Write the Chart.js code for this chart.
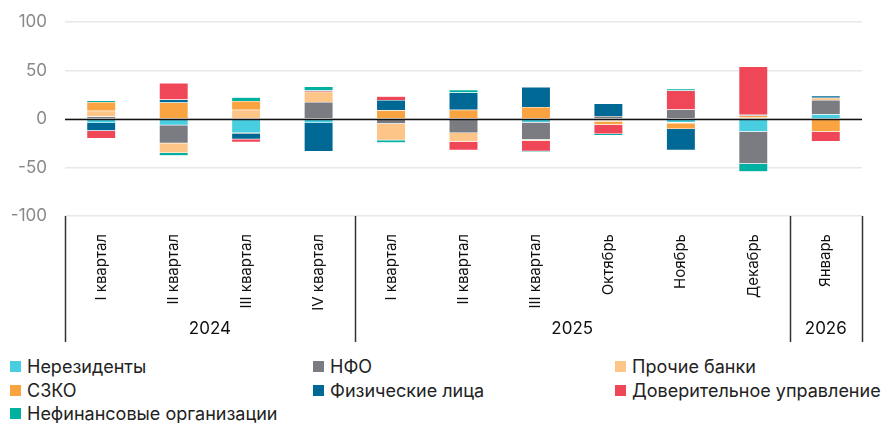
<!DOCTYPE html>
<html lang="ru">
<head>
<meta charset="utf-8">
<script src="https://cdn.jsdelivr.net/npm/chart.js@4"></script>
<style>
  html, body { margin: 0; padding: 0; background: #fff; }
  body { width: 885px; height: 423px; overflow: hidden; font-family: Inter, "Noto Sans", sans-serif; }
  #wrap { position: relative; width: 885px; height: 348px; }
  #legend {
    display: grid;
    grid-template-columns: 303px 302px 280px;
    row-gap: 4px;
    padding-left: 10px;
    margin-top: 9px;
    font-size: 18px;
    color: #222;
  }
  #legend div { display: flex; align-items: center; height: 19.5px; white-space: nowrap; }
  #legend .dot { width: 11px; height: 11px; margin-right: 6px; flex: none; }
</style>
</head>
<body>
<div id="wrap"><canvas id="chart"></canvas></div>
<div id="legend"></div>
<script>
// ===================== DATA =====================
const categories = ["I квартал", "II квартал", "III квартал", "IV квартал", "I квартал", "II квартал",
  "III квартал", "Октябрь", "Ноябрь", "Декабрь", "Январь"];
const yearLabels = ["2024", "2025", "2026"];
const yearSpans = [4, 6, 1]; // how many categories fall in each year
const yTicks = [100, 50, 0, -50, -100];

const seriesNames = ["Нерезиденты", "НФО", "Прочие банки", "СЗКО", "Физические лица",
  "Доверительное управление", "Нефинансовые организации"];
const seriesColors = ["#48cee0", "#7b7c82", "#fdc587", "#f9a441", "#006895", "#ef4757", "#00b0a0"];

const nonResidents = [-4, -6.5, -14.5, -4, 0, 0, -3.5, -1.5, -3.5, -13.2, 4.9];
const nfo = [2.5, -18.5, -1, 17.5, -5, -14.5, -18, 3, 9.7, -33, 14.6];
const otherBanks = [6, -10, 9.5, 10.5, -17, -9, -0.8, -1.5, -0.8, 2, 2.4];
const szko = [9, 17, 9, 0, 9, 9.5, 12.5, -3, -6, 1.5, -13.2];
const individuals = [-8, 3, -5.5, -29.5, 10.5, 17.7, 20.5, 13, -21.9, 1, 2];
const trust = [-8, 17, -3, 1.5, 4, -8.7, -11, -9.5, 19.8, 49.7, -10];
const nonFinancial = [1.5, -3, 4, 4, -2.5, 3, -0.7, -1.5, 1.7, -8.3, 0];

const seriesValues = [nonResidents, nfo, otherBanks, szko, individuals, trust, nonFinancial];

// ===================== PLUGINS =====================
const zeroLine = {
  id: "zeroLine",
  afterDatasetsDraw(chart) {
    const { ctx, chartArea, scales } = chart;
    const y = Math.round(scales.y.getPixelForValue(0)) + 0.5;
    ctx.save();
    ctx.strokeStyle = "#111";
    ctx.lineWidth = 1.5;
    ctx.beginPath();
    ctx.moveTo(chartArea.left, y);
    ctx.lineTo(chartArea.right, y);
    ctx.stroke();
    ctx.restore();
  },
};

const yearGroups = {
  id: "yearGroups",
  afterDraw(chart) {
    const { ctx, chartArea, scales } = chart;
    const x = scales.x;
    const top = chartArea.bottom;
    const bottom = top + 126;
    const half = (x.getPixelForValue(1) - x.getPixelForValue(0)) / 2;
    ctx.save();
    ctx.strokeStyle = "#333";
    ctx.lineWidth = 1.5;
    ctx.fillStyle = "#111";
    ctx.font = "17px Inter, 'Noto Sans', sans-serif";
    ctx.textAlign = "center";
    ctx.textBaseline = "middle";
    let start = 0;
    const edges = [x.getPixelForValue(0) - half];
    yearSpans.forEach((span, i) => {
      const end = start + span - 1;
      const left = x.getPixelForValue(start) - half;
      const right = x.getPixelForValue(end) + half;
      edges.push(right);
      ctx.fillText(yearLabels[i], (left + right) / 2, top + 113);
      start += span;
    });
    edges.forEach((px) => {
      const lx = Math.round(px) + 0.5;
      ctx.beginPath();
      ctx.moveTo(lx, top);
      ctx.lineTo(lx, bottom);
      ctx.stroke();
    });
    ctx.restore();
  },
};

// ===================== CHART =====================
new Chart(document.getElementById("chart"), {
  type: "bar",
  data: {
    labels: categories,
    datasets: seriesNames.map((name, i) => ({
      label: name,
      data: seriesValues[i],
      backgroundColor: seriesColors[i],
      borderColor: "rgba(255,255,255,0.6)",
      borderWidth: 0.5,
      categoryPercentage: 1,
      barPercentage: 0.4,
    })),
  },
  options: {
    responsive: true,
    maintainAspectRatio: false,
    animation: false,
    layout: { padding: { top: 22, right: 23, left: 0, bottom: 0 } },
    plugins: { legend: { display: false }, tooltip: { enabled: false } },
    scales: {
      x: {
        stacked: true,
        grid: { display: false },
        border: { display: false },
        ticks: {
          minRotation: 90,
          maxRotation: 90,
          autoSkip: false,
          padding: 10,
          color: "#111",
          font: { family: "Inter, 'Noto Sans', sans-serif", size: 15 },
        },
        afterFit(scale) {
          scale.height = 132;
          scale.paddingLeft = 0;
          scale.paddingRight = 0;
        },
      },
      y: {
        stacked: true,
        min: -100,
        max: 100,
        afterBuildTicks(scale) { scale.ticks = yTicks.map((v) => ({ value: v })); },
        grid: { color: "#e8e8e8", lineWidth: 1.5, drawTicks: false },
        border: { display: false },
        ticks: {
          padding: 18,
          color: "#888",
          font: { family: "Inter, 'Noto Sans', sans-serif", size: 17 },
        },
        afterFit(scale) {
          scale.width = 65;
          scale.paddingTop = 0;
          scale.paddingBottom = 0;
        },
      },
    },
  },
  plugins: [zeroLine, yearGroups],
});

// ===================== LEGEND =====================
const legend = document.getElementById("legend");
seriesNames.forEach((name, i) => {
  const item = document.createElement("div");
  item.innerHTML = `<span class="dot" style="background:${seriesColors[i]}"></span>${name}`;
  legend.appendChild(item);
});
</script>
</body>
</html>
